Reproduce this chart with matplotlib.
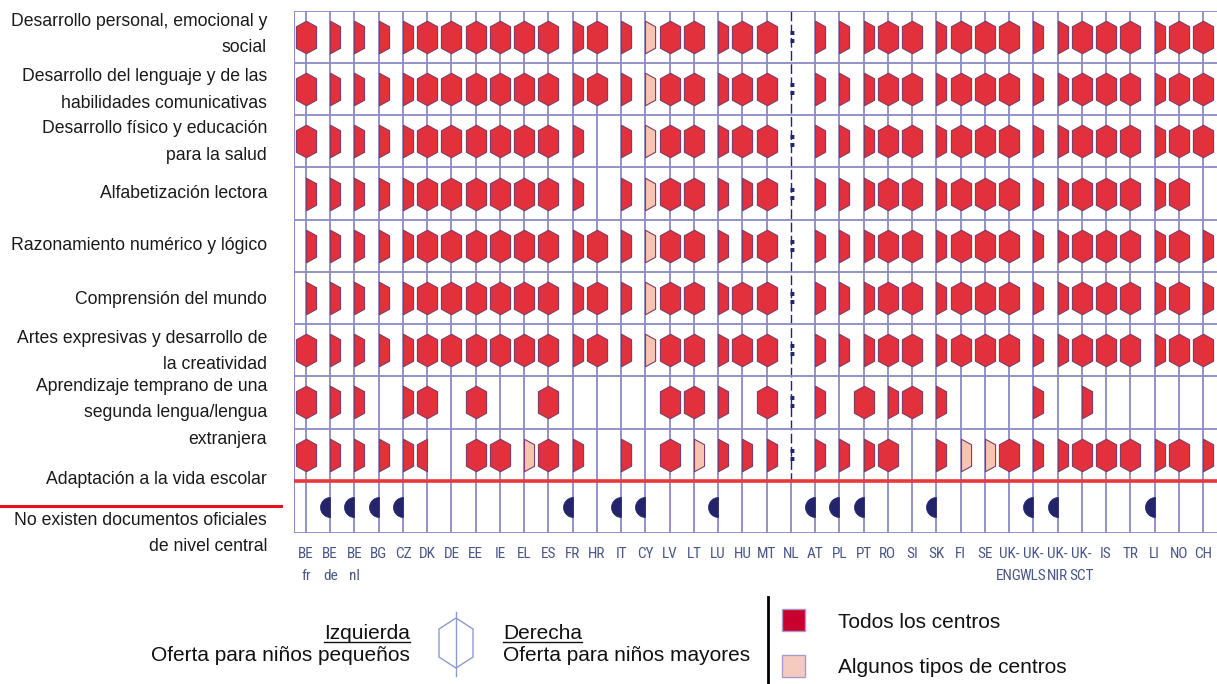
import matplotlib
matplotlib.use("Agg")
import matplotlib.pyplot as plt
from matplotlib.path import Path
from matplotlib.lines import Line2D
from matplotlib.patches import Polygon, Rectangle
import numpy as np

# ---------------- data ----------------
countries = ["BE fr", "BE de", "BE nl", "BG", "CZ", "DK", "DE", "EE", "IE", "EL",
             "ES", "FR", "HR", "IT", "CY", "LV", "LT", "LU", "HU", "MT", "NL",
             "AT", "PL", "PT", "RO", "SI", "SK", "FI", "SE", "UK-ENG", "UK-WLS",
             "UK-NIR", "UK-SCT", "IS", "TR", "LI", "NO", "CH"]

areas = ["Desarrollo personal, emocional y\nsocial",
         "Desarrollo del lenguaje y de las\nhabilidades comunicativas",
         "Desarrollo físico y educación\npara la salud",
         "Alfabetización lectora",
         "Razonamiento numérico y lógico",
         "Comprensión del mundo",
         "Artes expresivas y desarrollo de\nla creatividad",
         "Aprendizaje temprano de una\nsegunda lengua/lengua\nextranjera",
         "Adaptación a la vida escolar"]
no_docs_label = "No existen documentos oficiales\nde nivel central"

# codes per country: F = both halves (all centres), R = right half (older children, all centres),
# L = left half (younger children, all centres), r = right half (some types of centres),
# - = nothing, : = not available
row_personal   = "FRRRRFFFFFFRFRrFFRFF:RRRFFRFFFRRFFFRFF"
row_lenguaje   = "FRRRRFFFFFFRFRrFFRFF:RRRFFRFFFRRFFFRFF"
row_fisico     = "FRRRRFFFFFFR-RrFFRFF:RRRFFRFFFRRFFFRFF"
row_lectora    = "RRRRRFFFFFFR-RrFFRRF:RRRFFRFFFRRFFFRF-"
row_numerico   = "RRRRRFFFFFFRFRrFFRRF:RRRFFRFFFRRFFFRFR"
row_mundo      = "RRRRRFFFFFFRFRrFFRFF:RRRFFRFFFRRFFFRFR"
row_artes      = "FRRRRFFFFFFRFRrFFRFF:RRRFFRFFFRRFFFRFF"
row_extranjera = "FRR-RF-F--F----FFR-F:R-FRFR---R-R-----"
row_adaptacion = "FRRRRL-FFrFR-R-FrRRR:RRRF-RrrFRRFFFRFR"
area_rows = [row_personal, row_lenguaje, row_fisico, row_lectora, row_numerico,
             row_mundo, row_artes, row_extranjera, row_adaptacion]

no_central_docs = ["BE de", "BE nl", "BG", "CZ", "FR", "IT", "CY", "LU", "AT", "PL",
                   "PT", "SK", "UK-WLS", "UK-NIR", "LI"]

legend_left_title = "Izquierda"
legend_left_text = "Oferta para niños pequeños"
legend_right_title = "Derecha"
legend_right_text = "Oferta para niños mayores"
legend_all = "Todos los centros"
legend_some = "Algunos tipos de centros"

# ---------------- style ----------------
W, H = 1217, 684
RED = "#e3303d"
PINK = "#f7c4b0"
EDGE = "#7e3c66"
GRID = "#8a8ac4"
NAVY = "#24246a"
LABEL_C = "#4a5688"
COND = ["Roboto Condensed", "Liberation Sans Narrow", "Open Sans Condensed", "DejaVu Sans"]

def fx(px):
    return px / W

def fy(py):
    return 1 - py / H

fig = plt.figure(figsize=(W / 100, H / 100), dpi=100)
fig.patch.set_facecolor("white")

top_px, bot_px, left_px = 10.7, 533.0, 294.0
ax = fig.add_axes([fx(left_px), fy(bot_px), 1 - fx(left_px), (bot_px - top_px) / H])
ncol = len(countries)
nrow = len(area_rows) + 1
pitch = (1203 - 306) / (ncol - 1)
x0 = -(306 - left_px) / pitch
ax.set_xlim(x0, (ncol - 1) + (W - 1203) / pitch)
ax.set_ylim(nrow - 0.5, -0.5)
for s in ax.spines.values():
    s.set_visible(False)
ax.set_yticks([])

cols = np.arange(ncol)
nl_idx = countries.index("NL")

# grid
for c in cols:
    if c == nl_idx:
        ax.plot([c, c], [-0.5, nrow - 1.5], color=NAVY, lw=1.0, ls=(0, (7, 2.5)), zorder=1)
        ax.plot([c, c], [nrow - 1.5, nrow - 0.5], color=GRID, lw=1.3, zorder=1)
    else:
        ax.plot([c, c], [-0.5, nrow - 0.5], color=GRID, lw=1.3, zorder=1)
ax.plot([x0, x0], [-0.5, nrow - 0.5], color=GRID, lw=1.5, zorder=1)
for r in range(nrow + 1):
    y = r - 0.5
    if r == nrow - 1:
        ax.axhline(y, color="#e8383a", lw=2.6, zorder=2)
    else:
        ax.axhline(y, color=GRID, lw=1.3, zorder=1)

# markers
a, b = 0.62, 0.66
full_hex = Path([(0, 1), (a, b), (a, -b), (0, -1), (-a, -b), (-a, b), (0, 1)],
                [Path.MOVETO] + [Path.LINETO] * 5 + [Path.CLOSEPOLY])
right_hex = Path([(0, 1), (a, b), (a, -b), (0, -1), (0, 1)],
                 [Path.MOVETO] + [Path.LINETO] * 3 + [Path.CLOSEPOLY])
left_hex = Path([(0, 1), (-a, b), (-a, -b), (0, -1), (0, 1)],
                [Path.MOVETO] + [Path.LINETO] * 3 + [Path.CLOSEPOLY])
t = np.linspace(np.pi / 2, 3 * np.pi / 2, 40)
half_circle = Path(np.column_stack([np.cos(t), np.sin(t)]).tolist() + [(0, 1)],
                   [Path.MOVETO] + [Path.LINETO] * 39 + [Path.CLOSEPOLY])

hex_size = (32.5 * 0.72) ** 2
groups = {"F": (full_hex, RED), "R": (right_hex, RED), "L": (left_hex, RED),
          "r": (right_hex, PINK), "l": (left_hex, PINK), "P": (full_hex, PINK)}
for code, (marker, color) in groups.items():
    xs, ys = [], []
    for r, row in enumerate(area_rows):
        for c, ch in enumerate(row):
            if ch == code:
                xs.append(c)
                ys.append(r)
    if xs:
        ax.scatter(xs, ys, s=hex_size, marker=marker, facecolor=color,
                   edgecolor=EDGE, linewidths=0.8, zorder=3)

for r, row in enumerate(area_rows):
    for c, ch in enumerate(row):
        if ch == ":":
            ax.text(c + 0.05, r, ":", ha="center", va="center", fontsize=16,
                    fontweight="bold", family="DejaVu Sans", color=NAVY, zorder=4)

nd_x = [countries.index(cn) for cn in no_central_docs]
ax.scatter(nd_x, [nrow - 1] * len(nd_x), s=(20 * 0.72) ** 2, marker=half_circle,
           facecolor=NAVY, edgecolor=NAVY, linewidths=0.5, zorder=3)

# country labels
tick_labels = [cn.replace(" ", "\n").replace("UK-", "UK-\n") for cn in countries]
ax.set_xticks(cols)
ax.set_xticklabels(tick_labels, fontsize=11, color=LABEL_C, linespacing=1.75,
                   family=COND, fontstretch="condensed")
ax.tick_params(axis="x", length=0, pad=10)

# row labels
label_y = [34.5, 90, 142, 193, 246, 299, 351.5, 413, 479]
for txt, yy in zip(areas + [no_docs_label], label_y + [533.5]):
    fig.text(fx(267), fy(yy), txt, ha="right", va="center", fontsize=12.7,
             family="Liberation Sans", color="#1a1a1a", linespacing=1.72)
fig.add_artist(Line2D([0, fx(281)], [fy(506), fy(506)], color="#e8101c", lw=2.2,
                      transform=fig.transFigure))

# legend
LFONT = dict(family="Liberation Sans", fontsize=15, color="#111111")
t_iz = fig.text(fx(410), fy(639), legend_left_title, ha="right", va="baseline", **LFONT)
fig.text(fx(410), fy(661), legend_left_text, ha="right", va="baseline", **LFONT)
t_de = fig.text(fx(503), fy(639), legend_right_title, ha="left", va="baseline", **LFONT)
fig.text(fx(503), fy(661), legend_right_text, ha="left", va="baseline", **LFONT)

hex_pts = [(456, 618), (473, 629), (473, 657), (456, 668), (439, 657), (439, 629)]
fig.add_artist(Polygon([(fx(px), fy(py)) for px, py in hex_pts], closed=True,
                       facecolor="none", edgecolor="#8d9ad0", lw=1.0,
                       transform=fig.transFigure))
fig.add_artist(Line2D([fx(456), fx(456)], [fy(612), fy(676)], color="#8d9ad0", lw=1.0,
                      transform=fig.transFigure))

fig.add_artist(Line2D([fx(768), fx(768)], [fy(597), fy(683)], color="black", lw=2.0,
                      transform=fig.transFigure))
fig.add_artist(Rectangle((fx(782), fy(631)), 23 / W, 22 / H, facecolor="#c8002d",
                         edgecolor="#a79ac8", lw=1.0, transform=fig.transFigure))
fig.add_artist(Rectangle((fx(782), fy(677)), 23 / W, 22 / H, facecolor="#f6cbbf",
                         edgecolor="#a79ac8", lw=1.0, transform=fig.transFigure))
fig.text(fx(838), fy(628), legend_all, ha="left", va="baseline", **LFONT)
fig.text(fx(838), fy(673), legend_some, ha="left", va="baseline", **LFONT)

# underlines
fig.canvas.draw()
renderer = fig.canvas.get_renderer()
for tt in (t_iz, t_de):
    bb = tt.get_window_extent(renderer)
    yline = fy(641.5)
    fig.add_artist(Line2D([bb.x0 / W, bb.x1 / W], [yline, yline], color="#111111",
                          lw=1.0, transform=fig.transFigure))

fig.savefig("out.png", dpi=100, facecolor="white")
